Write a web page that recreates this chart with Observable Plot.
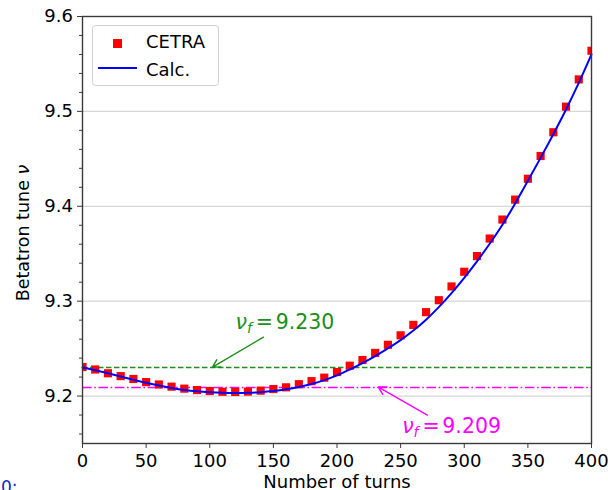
<!DOCTYPE html>
<html>
<head>
<meta charset="utf-8">
<script src="https://cdn.jsdelivr.net/npm/d3@7"></script>
<script src="https://cdn.jsdelivr.net/npm/@observablehq/plot@0.6"></script>
<style>
  html, body { margin: 0; padding: 0; background: #fff; }
  #wrap { position: relative; width: 608px; height: 490px; overflow: hidden; font-family: "DejaVu Sans", sans-serif; }
  #legend { position: absolute; left: 92px; top: 25px; }
</style>
</head>
<body>
<div id="wrap"></div>
<script>
// ---- data ----
const turns = [0, 10, 20, 30, 40, 50, 60, 70, 80, 90, 100, 110, 120, 130, 140, 150, 160, 170, 180, 190, 200,
               210, 220, 230, 240, 250, 260, 270, 280, 290, 300, 310, 320, 330, 340, 350, 360, 370, 380, 390, 400];
const cetra = [9.2306, 9.2280, 9.2240, 9.2210, 9.2180, 9.2147, 9.2122, 9.2099, 9.2078, 9.2063, 9.2053,
               9.2045, 9.2043, 9.2047, 9.2057, 9.2074, 9.2092, 9.2125, 9.2157, 9.2194, 9.2253,
               9.2320, 9.2380, 9.2455, 9.2540, 9.2640, 9.2750, 9.2884, 9.3010, 9.3155, 9.3310,
               9.3475, 9.3660, 9.3860, 9.4070, 9.4290, 9.4530, 9.4780, 9.5050, 9.5337, 9.5639];
const calc  = [9.2300, 9.2272, 9.2240, 9.2206, 9.2172, 9.2140, 9.2111, 9.2086, 9.2065, 9.2050, 9.2040,
               9.2034, 9.2032, 9.2034, 9.2041, 9.2053, 9.2071, 9.2096, 9.2128, 9.2168, 9.2218,
               9.2280, 9.2348, 9.2422, 9.2503, 9.2590, 9.2690, 9.2805, 9.2937, 9.3085, 9.3246,
               9.3420, 9.3605, 9.3805, 9.4030, 9.4268, 9.4510, 9.4760, 9.5020, 9.5300, 9.5600];
const nuFinalA = 9.230;   // green dashed
const nuFinalB = 9.209;   // magenta dash-dot
const xTicks = [0, 50, 100, 150, 200, 250, 300, 350, 400];
const yTicks = [9.2, 9.3, 9.4, 9.5, 9.6];
const yMinorTicks = [9.16, 9.18, 9.22, 9.24, 9.26, 9.28, 9.32, 9.34, 9.36, 9.38, 9.42, 9.44, 9.46, 9.48, 9.52, 9.54, 9.56, 9.58];
const seriesNames = ["CETRA", "Calc."];
const xLabel = "Number of turns";
const yLabel = "Betatron tune ν";

// annotations (data coordinates)
const annA = {text: "νf = 9.230", x: 120.2, y: 9.2705, ax1: 142.2, ay1: 9.2621, ax2: 102.2, ay2: 9.2305};
const annB = {text: "νf = 9.209", x: 251.2, y: 9.1607, ax1: 271.0, ay1: 9.1800, ax2: 232.6, ay2: 9.2095};

const data = turns.map((t, i) => ({t, cetra: cetra[i], calc: calc[i]}));

const green = "#1a8f1a";
const magenta = "#ff00ff";
const font = '"DejaVu Sans", sans-serif';

const chart = Plot.plot({
  width: 608,
  height: 490,
  marginLeft: 82,
  marginRight: 17,
  marginTop: 16,
  marginBottom: 47,
  style: {fontFamily: font, fontSize: "18px", color: "#000", background: "white", overflow: "visible"},
  x: {domain: [0, 400]},
  y: {domain: [9.15, 9.6]},
  marks: [
    Plot.gridY(yTicks.slice(0, 4), {stroke: "#d6d6d6", strokeOpacity: 1, strokeWidth: 1.2}),
    Plot.ruleY([nuFinalA], {stroke: green, strokeWidth: 1.5, strokeDasharray: "5.5,2.5"}),
    Plot.ruleY([nuFinalB], {stroke: magenta, strokeWidth: 1.5, strokeDasharray: "9.6,2.6,1.6,2.6"}),
    Plot.dot(data, {x: "t", y: "cetra", symbol: "square", fill: "red", r: 4.6, clip: true}),
    Plot.line(data, {x: "t", y: "calc", stroke: "blue", strokeWidth: 2, curve: "catmull-rom"}),
    Plot.frame({stroke: "#3a3a3a", strokeWidth: 1.4}),
    Plot.axisY(yTicks, {tickSize: 5, tickPadding: 4.5, tickFormat: d3.format(".1f"), label: null, fontSize: 18, stroke: "#3a3a3a"}),
    Plot.axisY(yMinorTicks, {tickSize: 3, tickFormat: () => "", label: null, stroke: "#3a3a3a"}),
    Plot.axisX(xTicks, {tickSize: 5, tickPadding: 5.5, label: null, fontSize: 18, stroke: "#3a3a3a"}),
    // axis labels
    Plot.text([xLabel], {frameAnchor: "bottom", dy: 44.8, lineAnchor: "bottom", textAnchor: "middle", fontSize: 18, text: d => d}),
    Plot.text([yLabel], {frameAnchor: "left", dx: -53.7, dy: 3, rotate: -90, lineAnchor: "bottom", textAnchor: "middle", fontSize: 17.5, text: d => d}),
    // annotations
    Plot.arrow([annA], {x1: "ax1", y1: "ay1", x2: "ax2", y2: "ay2", stroke: green, strokeWidth: 1.4, headLength: 9}),
    Plot.arrow([annB], {x1: "ax1", y1: "ay1", x2: "ax2", y2: "ay2", stroke: magenta, strokeWidth: 1.4, headLength: 9}),
    Plot.text([annA], {x: "x", y: "y", text: "text", textAnchor: "start", lineAnchor: "bottom", fill: green, fontSize: 20.5}),
    Plot.text([annB], {x: "x", y: "y", text: "text", textAnchor: "start", lineAnchor: "bottom", fill: magenta, fontSize: 20.5}),
    // cropped fragment at the bottom-left corner
    Plot.text(["0:"], {frameAnchor: "bottom-left", dx: -81.5, dy: 49.4, lineAnchor: "bottom", textAnchor: "start", fill: "#2020c8", fontSize: 17, text: d => d})
  ]
});

// rich text: italic nu and subscript f
d3.select(chart).selectAll("text").each(function () {
  const s = this.textContent;
  if (s === yLabel) {
    const sel = d3.select(this);
    sel.text(null);
    sel.append("tspan").text("Betatron tune ");
    sel.append("tspan").attr("font-style", "italic").text("ν");
  } else if (s === annA.text || s === annB.text) {
    const sel = d3.select(this);
    const num = s.split("= ")[1];
    sel.text(null);
    sel.append("tspan").attr("font-style", "italic").text("ν");
    sel.append("tspan").attr("font-style", "italic").attr("font-size", 14).attr("dy", 4).text("f");
    sel.append("tspan").attr("dx", 4).attr("dy", -4).text("=");
    sel.append("tspan").attr("dx", 2.6).text(num);
  }
});

const wrap = document.getElementById("wrap");
wrap.appendChild(chart);

// legend
const leg = d3.create("svg").attr("id", "legend").attr("width", 128).attr("height", 62)
  .style("position", "absolute").style("left", "92px").style("top", "25px");
leg.append("rect").attr("x", 0.5).attr("y", 0.5).attr("width", 126).attr("height", 60).attr("rx", 3)
  .attr("fill", "white").attr("fill-opacity", 0.8).attr("stroke", "#cfcfcf");
leg.append("rect").attr("x", 21).attr("y", 14).attr("width", 9).attr("height", 9).attr("fill", "red");
leg.append("line").attr("x1", 6).attr("x2", 45).attr("y1", 43).attr("y2", 43).attr("stroke", "blue").attr("stroke-width", 2);
leg.selectAll("text.lab").data(seriesNames).join("text")
  .attr("x", 54).attr("y", (d, i) => i === 0 ? 22.7 : 51)
  .attr("font-family", font).attr("font-size", 18).attr("fill", "#000").text(d => d);
wrap.appendChild(leg.node());
</script>
</body>
</html>
